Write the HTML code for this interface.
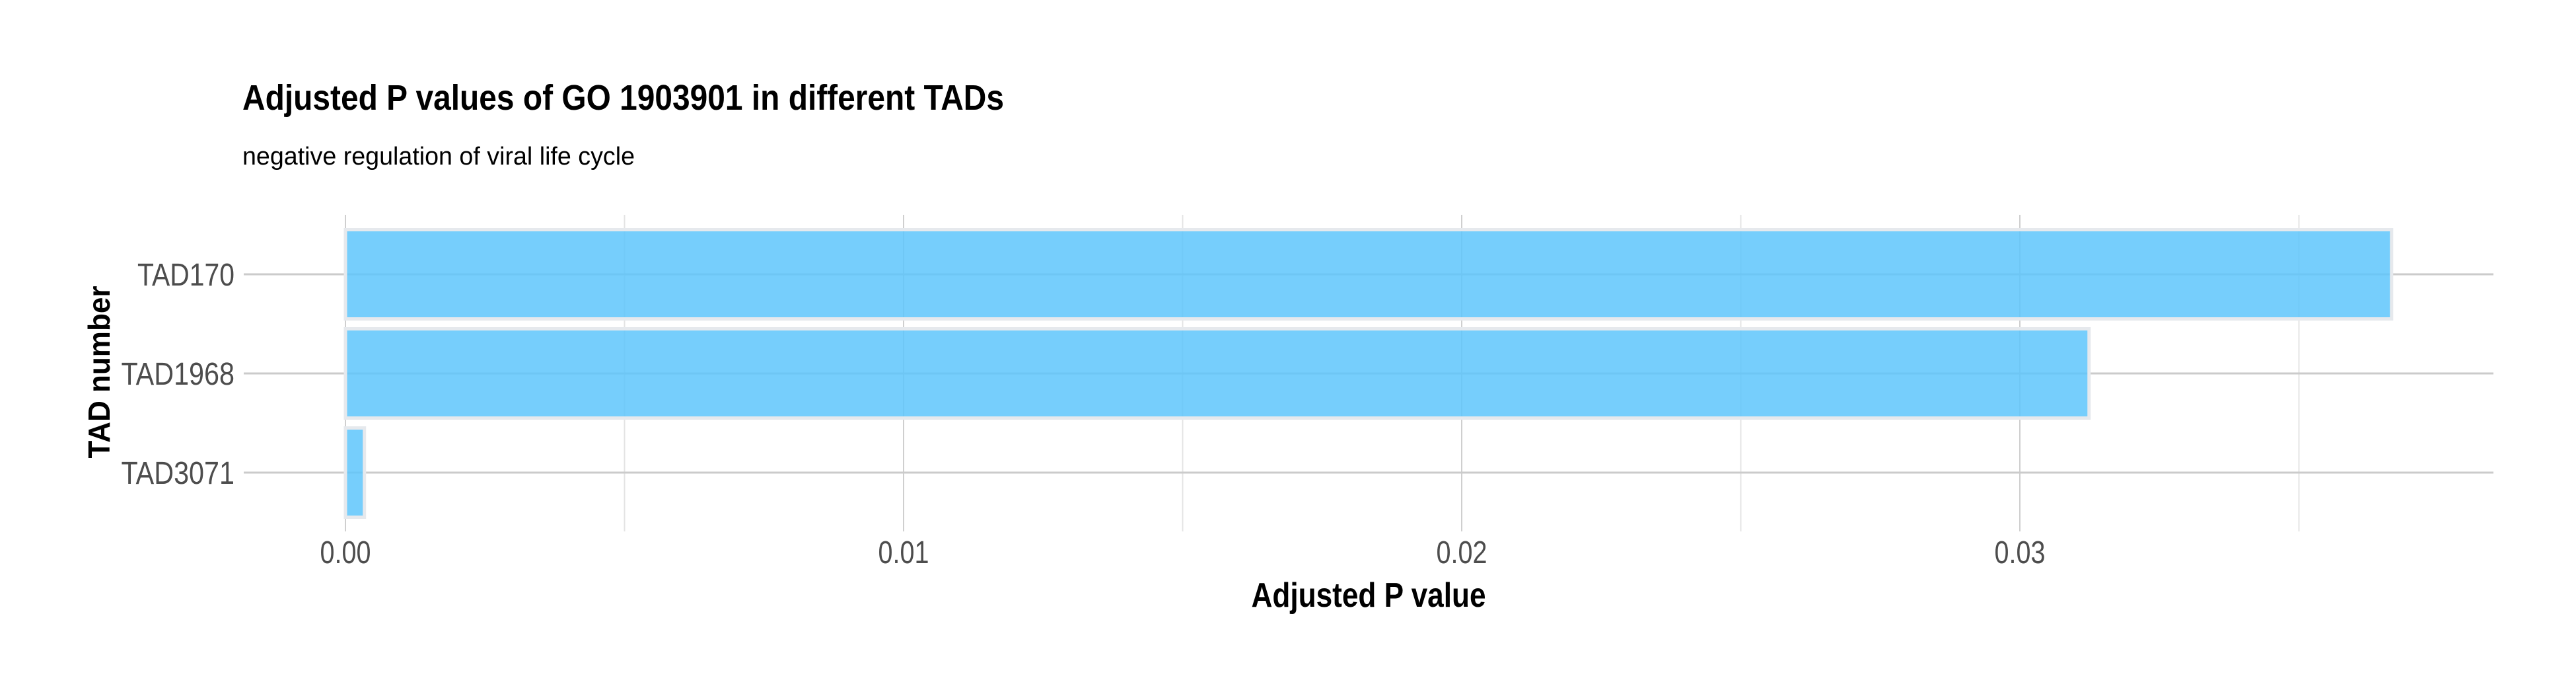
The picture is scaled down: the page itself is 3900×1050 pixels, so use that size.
<!DOCTYPE html>
<html><head><meta charset="utf-8"><style>
html,body{margin:0;padding:0;background:#fff;}
svg{display:block;font-family:"Liberation Sans Narrow","Liberation Sans",sans-serif;}
</style></head><body>
<svg id="chart" width="3900" height="1050" viewBox="0 0 3900 1050" xmlns="http://www.w3.org/2000/svg">
<rect width="3900" height="1050" fill="#fff"/>
<text x="367" y="166" font-size="54" font-weight="bold" fill="#000" textLength="1153" lengthAdjust="spacingAndGlyphs">Adjusted P values of GO 1903901 in different TADs</text>
<text x="367" y="249" font-size="38" fill="#000" textLength="594" lengthAdjust="spacingAndGlyphs">negative regulation of viral life cycle</text>
<g id="grid"></g>
<g id="bars"></g>
<g id="xticks"></g>
<g id="yticks"></g>
<text x="2072" y="918" font-size="52" font-weight="bold" fill="#000" text-anchor="middle" textLength="355" lengthAdjust="spacingAndGlyphs">Adjusted P value</text>
<text transform="translate(166,563) rotate(-90)" font-size="46" font-weight="bold" fill="#000" text-anchor="middle" font-family="Liberation Sans, sans-serif" textLength="261" lengthAdjust="spacingAndGlyphs">TAD number</text>
</svg>
<script>
const categories = ["TAD170", "TAD1968", "TAD3071"];
const pValues = [0.03666, 0.03124, 0.00034];
const xTickValues = [0, 0.01, 0.02, 0.03];
const xTickLabels = ["0.00", "0.01", "0.02", "0.03"];
const xMinorValues = [0.005, 0.015, 0.025, 0.035];

const NS = "http://www.w3.org/2000/svg";
const panel = {left: 369, right: 3775, top: 325, bottom: 804};
const x0 = 523, pxPerUnit = 84500;
function xScale(v){ return x0 + v * pxPerUnit; }
function yScale(i){ return 415 + i * 150; }
function mk(tag, attrs, parent){
  const el = document.createElementNS(NS, tag);
  for (const k in attrs) el.setAttribute(k, attrs[k]);
  parent.appendChild(el);
  return el;
}
const grid = document.getElementById("grid");
xMinorValues.forEach(v => {
  const l = mk("line", {x1: xScale(v), x2: xScale(v), y1: panel.top, y2: panel.bottom, stroke: "#e4e4e4", "stroke-width": 2}, grid);
  
  
});
xTickValues.forEach(v => {
  const l = mk("line", {x1: xScale(v), x2: xScale(v), y1: panel.top, y2: panel.bottom, stroke: "#cfcfcf", "stroke-width": 2}, grid);
  
  
});
categories.forEach((c, i) => {
  const l = mk("line", {x1: panel.left, x2: panel.right, y1: yScale(i), y2: yScale(i), stroke: "#cbcbcb", "stroke-width": 3}, grid);
  
  
});
const bars = document.getElementById("bars");
const bh = 135;
pValues.forEach((v, i) => {
  const r = mk("rect", {x: xScale(0), y: yScale(i) - bh/2, width: xScale(v) - xScale(0), height: bh, fill: "#5ec6fb", "fill-opacity": 0.85, stroke: "#e6e9ed", "stroke-width": 5}, bars);
  
  
});
const xt = document.getElementById("xticks");
xTickValues.forEach((v, i) => {
  const t = mk("text", {x: xScale(v), y: 852, "font-size": 48, fill: "#4d4d4d", "text-anchor": "middle", textLength: 77, lengthAdjust: "spacingAndGlyphs"}, xt);
  t.textContent = xTickLabels[i];
  
  
});
const yt = document.getElementById("yticks");
categories.forEach((c, i) => {
  const t = mk("text", {x: 355, y: yScale(i) + 17, "font-size": 48, fill: "#4d4d4d", "text-anchor": "end", textLength: c.length * 24.5, lengthAdjust: "spacingAndGlyphs"}, yt);
  t.textContent = c;
  
  
});
</script>
</body></html>
